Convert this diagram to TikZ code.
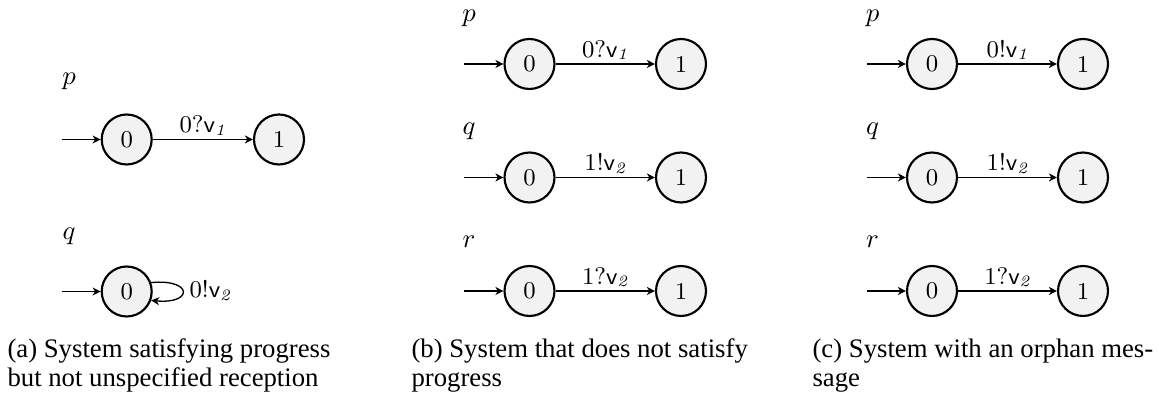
\documentclass[tikz,border=0pt]{standalone}
\usepackage{fontspec}
\newfontfamily\capfont{Liberation Serif}
\usetikzlibrary{arrows.meta}
\begin{document}
\begin{tikzpicture}[x=0.37412pt, y=-0.37412pt,
  state/.style={circle, draw, line width=0.8pt, fill=black!5, minimum size=18.7pt, inner sep=0pt, font=\fontsize{9}{10}\selectfont},
  trans/.style={-{Stealth[length=3pt,width=3pt,inset=0.9pt]}, line width=0.5pt},
  lbl/.style={anchor=base, yshift=2.6pt, inner sep=0pt, font=\fontsize{9}{10}\selectfont},
  proc/.style={anchor=base, inner sep=0pt, font=\fontsize{10}{12}\selectfont},
  captext/.style={anchor=base west, inner sep=0pt, align=left, font=\capfont\fontsize{10}{11.2}\selectfont}
]
\useasboundingbox (0,0) rectangle (1159,399);

% ---------- (a) ----------
\node[proc] (ap) at (69,84.5) {$p$};
\node[state] (ap0) at (126.7,139.5) {0};
\node[state] (ap1) at (279,139.5) {1};
\coordinate (apin) at (61.7,139.5);
\draw[trans] (apin) -- (ap0);
\draw[trans] (ap0) -- node[lbl] (apl) {0?\textsf{v}$_{\mathit{1}}$} (ap1);

\node[proc] (aq) at (69,239.5) {$q$};
\node[state] (aq0) at (126.7,291.5) {0};
\coordinate (aqin) at (61.7,291.5);
\draw[trans] (aqin) -- (aq0);
\draw[trans] (aq0.20) .. controls +(42,-4) and +(42,4) .. (aq0.-20);
\node[anchor=base west, inner sep=0pt, font=\fontsize{9}{10}\selectfont] (aql) at (189,298) {0!\textsf{v}$_{\mathit{2}}$};

\node[captext] (capa) at (7,387) {(a) System satisfying progress\\but not unspecified reception};

% ---------- (b) ----------
\node[proc] (bp) at (469,21.5) {$p$};
\node[state] (bp0) at (529.5,64) {0};
\node[state] (bp1) at (681,64) {1};
\coordinate (bpin) at (464,64);
\draw[trans] (bpin) -- (bp0);
\draw[trans] (bp0) -- node[lbl] (bpl) {0?\textsf{v}$_{\mathit{1}}$} (bp1);

\node[proc] (bq) at (469,135) {$q$};
\node[state] (bq0) at (529.5,177.5) {0};
\node[state] (bq1) at (681,177.5) {1};
\coordinate (bqin) at (464,177.5);
\draw[trans] (bqin) -- (bq0);
\draw[trans] (bq0) -- node[lbl] (bql) {1!\textsf{v}$_{\mathit{2}}$} (bq1);

\node[proc] (br) at (469,248) {$r$};
\node[state] (br0) at (529.5,291) {0};
\node[state] (br1) at (681,291) {1};
\coordinate (brin) at (464,291);
\draw[trans] (brin) -- (br0);
\draw[trans] (br0) -- node[lbl] (brl) {1?\textsf{v}$_{\mathit{2}}$} (br1);

\node[captext] (capb) at (411,387) {(b) System that does not satisfy\\progress};

% ---------- (c) ----------
\node[proc] (cp) at (872.5,21.5) {$p$};
\node[state] (cp0) at (932,64) {0};
\node[state] (cp1) at (1083,64) {1};
\coordinate (cpin) at (867,64);
\draw[trans] (cpin) -- (cp0);
\draw[trans] (cp0) -- node[lbl] (cpl) {0!\textsf{v}$_{\mathit{1}}$} (cp1);

\node[proc] (cq) at (872.5,135) {$q$};
\node[state] (cq0) at (932,177.5) {0};
\node[state] (cq1) at (1083,177.5) {1};
\coordinate (cqin) at (867,177.5);
\draw[trans] (cqin) -- (cq0);
\draw[trans] (cq0) -- node[lbl] (cql) {1!\textsf{v}$_{\mathit{2}}$} (cq1);

\node[proc] (cr) at (872.5,248) {$r$};
\node[state] (cr0) at (932,291) {0};
\node[state] (cr1) at (1083,291) {1};
\coordinate (crin) at (867,291);
\draw[trans] (crin) -- (cr0);
\draw[trans] (cr0) -- node[lbl] (crl) {1?\textsf{v}$_{\mathit{2}}$} (cr1);

\node[captext] (capc) at (812,387) {(c) System with an orphan mes-\\sage};
\end{tikzpicture}
\end{document}
